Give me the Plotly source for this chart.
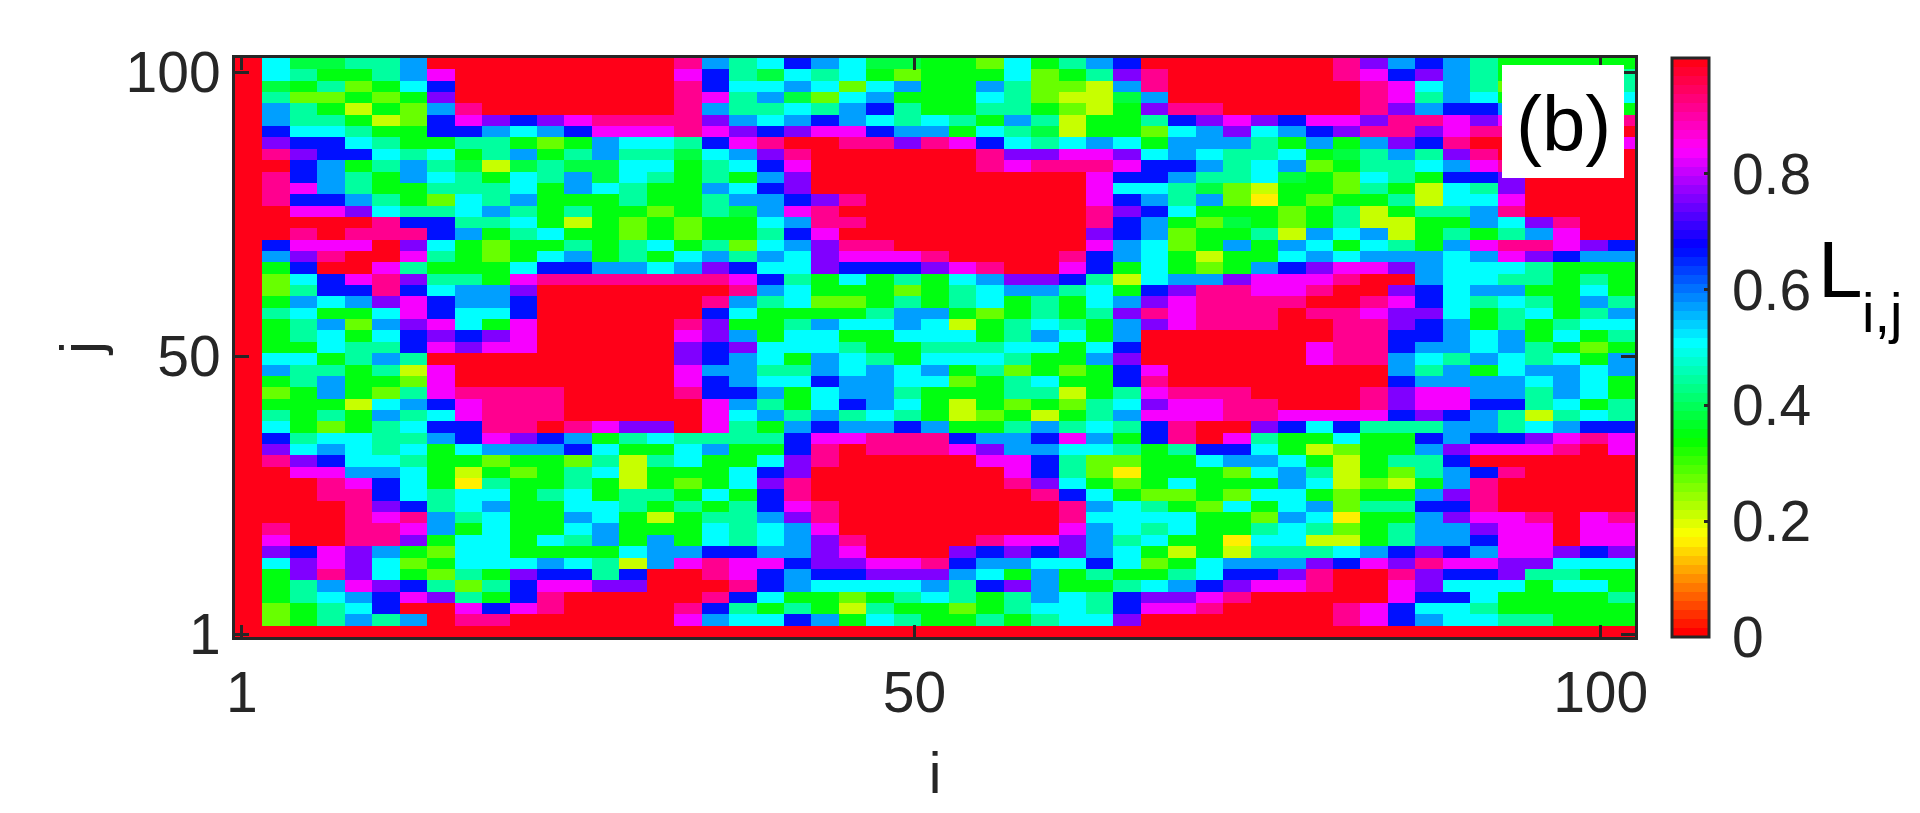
import colorsys
import plotly.graph_objects as go

# cell values, coded by colour band (top row first)
levels = {'r': 0.99, 'p': 0.92, 'm': 0.84, 'v': 0.76, 'b': 0.67, 'a': 0.57, 'c': 0.50,
          't': 0.44, 'g': 0.39, 'G': 0.345, 'l': 0.28, 'y': 0.21, 'Y': 0.17}

rows = [
    "cggttarrrrrrrrrpatcbacggG" + "GlcGtabrrrrrrrpvabatGGGGG",
    "ctGGtamrrrrrrrrmbtgctcGlG" + "GGclGtvprrrrrrpmbvatGGGGt",
    "gGtlGcbrrrrrrrrpbccaclcaG" + "GatllyaprrrrrrrpmcatlGGGt",
    "tllGlGvrrrrrrrrpmtaglcaGG" + "GctlyygarrrrrrrpmtacGlGGc",
    "atGyGlaprrrrrrrpattctabtG" + "GttGlyGvpprrrrrpvabbaGGaG",
    "attGylbmvbvmppppvacabactc" + "tGatyGGtbvmvbmmvppmvmmppp",
    "bcctGGbbacabmmmpmvbvmmbaa" + "GctgyGGlcavcabvppvmpprrrr",
    "vbbctGGttGlGacctbmprrppvp" + "mbctcacGaaatGaGavbprrrrrm",
    "pvbbctcGtaGtattgcavprrrrr" + "rpvvmmvcacttcGgtatvprrrrr",
    "rbaGtatgygtggccGtcbmrrrrr" + "rpmpppmbbatcalGttcamprrrr",
    "pbatGactGctagctGtGavrrrrr" + "rrrrrmbbattcgGlctGbbvrrrr",
    "pmatGGtttcGactGGacbvrrrrr" + "rrrrrmcctglyGGltGyctvrrrr",
    "pbbatGlctaGGGtGGtaabvprrr" + "rrrrrmbatalYGlGGtyccmrrrr",
    "rmmvcttcatGtGGlGtgamprrrr" + "rrrrrpvbcGGGlGtyGttaprrrr",
    "rrrrpbbttcGyGlGlGGcapprrr" + "rrrrrpbaGlgGlGtyyGGacvprr",
    "rprpppbaGtcGGlGlGGtbmrrrr" + "rrrrrvbalGGtyacayGtGtamrr",
    "bmmmrvcGlGGtGtcGtlcavpprr" + "rrrrrmaclGaGacGctGamppmvb",
    "avprrmtGlGcaGtGcatacvmmmp" + "rrrrpbacGyGGcacaaacamvbaa",
    "GbrrmtGGGcbbaacavbccvbbbv" + "mprrmbGcGlGabvmmvaccctGGG",
    "lcbmpvttGmpppppppmbtGcGtG" + "cavvbtycaavmmmprraccttGtG",
    "ltbbpbcaavrrrrrrrpacGGGlG" + "tcaatcGbvppmmprrvbcaaGGcG",
    "GacavmbaabrrrrrrpatcllGtG" + "tcGtGcavmpppprrpmbctctGat",
    "tcGGcmbccbrrrrrrbcGGGGtaa" + "GlGtGtvpmppprppmvvcGtcGta",
    "GtalavmcGmrrrrrpvGGtaccac" + "yGtctGavmppprrppvbaGtGtcc",
    "GtcGcbvbvmrrrrrmvaGccGGcc" + "cGtacGarrrrrrrppbbacaGcGt",
    "GGcttbmvmmrrrrrvbvccctGGt" + "ttccGcbrrrrrrmppbaacatGlG",
    "ccGtatrrrrrrrrrvbacGactGc" + "cctGGavrrrrrrmppactactcGa",
    "attGtymrrrrrrrrmaattacaca" + "GtlGlGbmrrrrrrrrataGcaaca",
    "GtaGGlmrrrrrrrrmbaccbaacc" + "lGtcGGbprrrrrrrrbaaaacacG",
    "lGaGltmpppprrrrpbbaGcaatG" + "GGttyGtmppprrrrpvmmaatacG",
    "GGGycabmppprrrrrmatGcbacG" + "yGlGltcvmmpprrrpvmmbbtcGt",
    "tGtGatcmppprrrrrmcatatctG" + "ylGyGtammmppmmmmbvbatytct",
    "cGlGtcbbpprpmvvrmtGabaaba" + "GGtatctbprrvbcbtttaatcabb",
    "btccttabmvbaGtcttttbmmppp" + "baabmaGbprmtGGcGGbabbvmpm",
    "vcactcGcaaabcGGcaGGbprppp" + "mvaacctGtbbcGylGGavmmmprm",
    "pvbcctGGlGGltytcGGcvprrrr" + "rmmbtllGGcaacGyGttbrrrrrr",
    "rmmaacGyGlGtcyGGGcbvrrrrr" + "rrmbtlYGGGlcatyGltabprrrr",
    "rrpmbcGYtGGtGyGlGcvprrrrr" + "rrpvcGlGcGGGacylyGaprrrrr",
    "rrppbctccGtcGttGcGbprrrrr" + "rrrpbcGllGlccGlGGavprrrrr",
    "rrrpvbtcaGGcctGtGtbmprrrr" + "rrrrpactGlcGcalttbbprrrrr",
    "rrrpmpatcGGacGyGttavprrrr" + "rrrrpccccGGlacYGGavmmprmp",
    "prrppmaGcGGcaGGGctcamrrrr" + "rrrrmactcGGtctlGtaavmmrmm",
    "mrrppvGccGctaGaGctcavprrr" + "rpmmvatcGGYccyyGtaabmmrmm",
    "vbmvaGlccGGGGcaabbaavmrrr" + "vbvbvacGyGytttcabvbammvbv",
    "cvmvclGcccactyampmmbvvmmp" + "baaccbclGcaaavbmvpmmvvccc",
    "GvpvcGltGvbbtbrrpmbabbvvv" + "acGaGtGGtcbbvprrpvbbvttGG",
    "Gtamvbtltbmmvvrrrpbacccca" + "tbvaGGtcabvmmprrmvcccGccG",
    "GtcabmvtGbprrrrrpbcGGlGtc" + "tGtactbvvmprrrrrmbbcGGGGt",
    "lGtcbrrmbmprrrrpbtGtGytGG" + "lGtcctbmmprrrrpmbcctGGGGG",
    "lGtatarpprrrrrrmaccbaGctG" + "GtGtccvrrrrrrrpmbaccttGGG",
]
edge_row = "r" * 51

x_vals = [1.5 + 2 * k for k in range(51)]
y_vals = [101.5 - 2 * n for n in range(51)]
for n, row in enumerate(rows):
    assert len(row) == 50, (n, len(row))
z = [[levels[ch] for ch in "r" + row] for row in rows] + [[levels[ch] for ch in edge_row]]

# MATLAB hsv colormap, 64 steps
colorscale = []
for i in range(64):
    r, g, b = colorsys.hsv_to_rgb(i / 64, 1, 1)
    c = f"rgb({round(r * 255)},{round(g * 255)},{round(b * 255)})"
    colorscale += [[i / 64, c], [(i + 1) / 64, c]]

W, H = 1920, 813
X0, X1, Y0, Y1 = 235, 1635, 58, 637
INK = "#262626"
FONT = "Liberation Sans, Arial, sans-serif"

fig = go.Figure(go.Heatmap(
    x=x_vals, y=y_vals, z=z, zmin=0, zmax=1, colorscale=colorscale,
    colorbar=dict(
        x=1672 / W, xanchor="left", xpad=0, ypad=0,
        y=1 - Y1 / H, yanchor="bottom", len=(Y1 - Y0) / H, lenmode="fraction",
        thickness=37, outlinecolor=INK, outlinewidth=3,
        tickvals=[0, 0.2, 0.4, 0.6, 0.8],
        ticktext=["\u20060", "\u20060.2", "\u20060.4", "\u20060.6", "\u20060.8"],
        ticks="inside", ticklen=6, tickwidth=3, tickcolor=INK,
        tickfont=dict(family=FONT, size=57, color=INK),
    ),
))

axis_style = dict(range=[0.5, 102.5], showgrid=False, zeroline=False, showline=True,
                  linecolor=INK, linewidth=3, mirror="allticks", ticks="inside",
                  tickwidth=3, tickcolor=INK, tickfont=dict(family=FONT, size=57, color=INK))

fig.update_layout(
    width=W, height=H, margin=dict(l=0, r=0, t=0, b=0, autoexpand=False),
    paper_bgcolor="white", plot_bgcolor="white",
    xaxis=dict(domain=[X0 / W, X1 / W], tickvals=[1, 50, 100], ticklen=12, ticklabelstandoff=4,
               title=dict(text="i", font=dict(family=FONT, size=57, color=INK), standoff=30),
               **axis_style),
    yaxis=dict(domain=[1 - Y1 / H, 1 - Y0 / H], tickvals=[1, 50, 100], ticklen=14,
               title=dict(text="j", font=dict(family=FONT, size=57, color=INK), standoff=6),
               **axis_style),
    shapes=[dict(type="rect", xref="paper", yref="paper", x0=1502 / W, x1=1624 / W,
                 y0=1 - 178 / H, y1=1 - 65 / H, fillcolor="white", line=dict(width=0), layer="above")],
    annotations=[
        dict(text="(b)", xref="paper", yref="paper", x=1563 / W, y=1 - 124 / H, xanchor="center",
             yanchor="middle", showarrow=False, font=dict(family=FONT, size=78, color="black")),
        dict(text="L", xref="paper", yref="paper", x=1816 / W, y=1 - 270 / H, xanchor="left",
             yanchor="middle", showarrow=False, font=dict(family=FONT, size=80, color="black")),
        dict(text="i,j", xref="paper", yref="paper", x=1860 / W, y=1 - 312 / H, xanchor="left",
             yanchor="middle", showarrow=False, font=dict(family=FONT, size=56, color="black")),
    ],
)

fig.write_html("out.html", config={"displayModeBar": False},
               post_script="document.body.style.margin='0';")
